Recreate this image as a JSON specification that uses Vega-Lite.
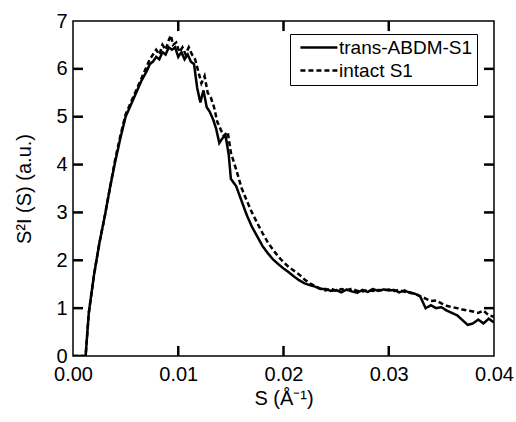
{
  "$schema": "https://vega.github.io/schema/vega-lite/v6.json",
  "autosize": "none",
  "width": 421,
  "height": 335,
  "padding": {"left": 73, "top": 21, "right": 22, "bottom": 66},
  "background": "white",
  "config": {
    "view": {"stroke": "black", "strokeWidth": 1.5},
    "font": "Liberation Sans",
    "axis": {"grid": false, "domain": false, "labelColor": "black", "titleColor": "black", "labelFont": "Liberation Sans", "titleFont": "Liberation Sans", "labelFontSize": 20, "titleFontSize": 20, "titleFontWeight": "normal"}
  },
  "datasets": {
    "xticks": [{"S": 0.01}, {"S": 0.02}, {"S": 0.03}],
    "yticks": [{"v": 1}, {"v": 2}, {"v": 3}, {"v": 4}, {"v": 5}, {"v": 6}],
    "curves": [
      {"S": 0, "v": 0, "series": "trans-ABDM-S1"},
      {"S": 0.0012, "v": 0, "series": "trans-ABDM-S1"},
      {"S": 0.0015, "v": 0.9, "series": "trans-ABDM-S1"},
      {"S": 0.002, "v": 1.7, "series": "trans-ABDM-S1"},
      {"S": 0.0025, "v": 2.35, "series": "trans-ABDM-S1"},
      {"S": 0.003, "v": 2.9, "series": "trans-ABDM-S1"},
      {"S": 0.0035, "v": 3.5, "series": "trans-ABDM-S1"},
      {"S": 0.004, "v": 4.05, "series": "trans-ABDM-S1"},
      {"S": 0.0045, "v": 4.55, "series": "trans-ABDM-S1"},
      {"S": 0.005, "v": 5.0, "series": "trans-ABDM-S1"},
      {"S": 0.0055, "v": 5.25, "series": "trans-ABDM-S1"},
      {"S": 0.006, "v": 5.5, "series": "trans-ABDM-S1"},
      {"S": 0.0065, "v": 5.75, "series": "trans-ABDM-S1"},
      {"S": 0.007, "v": 5.95, "series": "trans-ABDM-S1"},
      {"S": 0.0073, "v": 6.1, "series": "trans-ABDM-S1"},
      {"S": 0.0076, "v": 6.15, "series": "trans-ABDM-S1"},
      {"S": 0.0079, "v": 6.25, "series": "trans-ABDM-S1"},
      {"S": 0.0082, "v": 6.2, "series": "trans-ABDM-S1"},
      {"S": 0.0085, "v": 6.35, "series": "trans-ABDM-S1"},
      {"S": 0.0088, "v": 6.3, "series": "trans-ABDM-S1"},
      {"S": 0.0091, "v": 6.45, "series": "trans-ABDM-S1"},
      {"S": 0.0094, "v": 6.4, "series": "trans-ABDM-S1"},
      {"S": 0.0097, "v": 6.45, "series": "trans-ABDM-S1"},
      {"S": 0.01, "v": 6.25, "series": "trans-ABDM-S1"},
      {"S": 0.0103, "v": 6.35, "series": "trans-ABDM-S1"},
      {"S": 0.0106, "v": 6.2, "series": "trans-ABDM-S1"},
      {"S": 0.0109, "v": 6.3, "series": "trans-ABDM-S1"},
      {"S": 0.0112, "v": 6.15, "series": "trans-ABDM-S1"},
      {"S": 0.0115, "v": 6.1, "series": "trans-ABDM-S1"},
      {"S": 0.0118, "v": 5.6, "series": "trans-ABDM-S1"},
      {"S": 0.0121, "v": 5.3, "series": "trans-ABDM-S1"},
      {"S": 0.0124, "v": 5.55, "series": "trans-ABDM-S1"},
      {"S": 0.0127, "v": 5.2, "series": "trans-ABDM-S1"},
      {"S": 0.013, "v": 5.1, "series": "trans-ABDM-S1"},
      {"S": 0.0133, "v": 4.95, "series": "trans-ABDM-S1"},
      {"S": 0.0136, "v": 4.75, "series": "trans-ABDM-S1"},
      {"S": 0.0139, "v": 4.45, "series": "trans-ABDM-S1"},
      {"S": 0.0142, "v": 4.55, "series": "trans-ABDM-S1"},
      {"S": 0.0145, "v": 4.6, "series": "trans-ABDM-S1"},
      {"S": 0.0148, "v": 4.2, "series": "trans-ABDM-S1"},
      {"S": 0.015, "v": 3.7, "series": "trans-ABDM-S1"},
      {"S": 0.0155, "v": 3.55, "series": "trans-ABDM-S1"},
      {"S": 0.016, "v": 3.25, "series": "trans-ABDM-S1"},
      {"S": 0.0165, "v": 2.95, "series": "trans-ABDM-S1"},
      {"S": 0.017, "v": 2.7, "series": "trans-ABDM-S1"},
      {"S": 0.0175, "v": 2.5, "series": "trans-ABDM-S1"},
      {"S": 0.018, "v": 2.3, "series": "trans-ABDM-S1"},
      {"S": 0.0185, "v": 2.15, "series": "trans-ABDM-S1"},
      {"S": 0.019, "v": 2.02, "series": "trans-ABDM-S1"},
      {"S": 0.0195, "v": 1.92, "series": "trans-ABDM-S1"},
      {"S": 0.02, "v": 1.83, "series": "trans-ABDM-S1"},
      {"S": 0.0205, "v": 1.75, "series": "trans-ABDM-S1"},
      {"S": 0.021, "v": 1.66, "series": "trans-ABDM-S1"},
      {"S": 0.0215, "v": 1.58, "series": "trans-ABDM-S1"},
      {"S": 0.022, "v": 1.52, "series": "trans-ABDM-S1"},
      {"S": 0.0225, "v": 1.48, "series": "trans-ABDM-S1"},
      {"S": 0.023, "v": 1.45, "series": "trans-ABDM-S1"},
      {"S": 0.0235, "v": 1.4, "series": "trans-ABDM-S1"},
      {"S": 0.024, "v": 1.4, "series": "trans-ABDM-S1"},
      {"S": 0.0245, "v": 1.36, "series": "trans-ABDM-S1"},
      {"S": 0.025, "v": 1.38, "series": "trans-ABDM-S1"},
      {"S": 0.0255, "v": 1.33, "series": "trans-ABDM-S1"},
      {"S": 0.026, "v": 1.39, "series": "trans-ABDM-S1"},
      {"S": 0.0265, "v": 1.35, "series": "trans-ABDM-S1"},
      {"S": 0.027, "v": 1.32, "series": "trans-ABDM-S1"},
      {"S": 0.0275, "v": 1.38, "series": "trans-ABDM-S1"},
      {"S": 0.028, "v": 1.34, "series": "trans-ABDM-S1"},
      {"S": 0.0285, "v": 1.4, "series": "trans-ABDM-S1"},
      {"S": 0.029, "v": 1.36, "series": "trans-ABDM-S1"},
      {"S": 0.0295, "v": 1.39, "series": "trans-ABDM-S1"},
      {"S": 0.03, "v": 1.37, "series": "trans-ABDM-S1"},
      {"S": 0.0305, "v": 1.38, "series": "trans-ABDM-S1"},
      {"S": 0.031, "v": 1.33, "series": "trans-ABDM-S1"},
      {"S": 0.0315, "v": 1.37, "series": "trans-ABDM-S1"},
      {"S": 0.032, "v": 1.32, "series": "trans-ABDM-S1"},
      {"S": 0.0325, "v": 1.3, "series": "trans-ABDM-S1"},
      {"S": 0.033, "v": 1.24, "series": "trans-ABDM-S1"},
      {"S": 0.0335, "v": 1.0, "series": "trans-ABDM-S1"},
      {"S": 0.034, "v": 1.06, "series": "trans-ABDM-S1"},
      {"S": 0.0345, "v": 1.0, "series": "trans-ABDM-S1"},
      {"S": 0.035, "v": 1.02, "series": "trans-ABDM-S1"},
      {"S": 0.0355, "v": 0.95, "series": "trans-ABDM-S1"},
      {"S": 0.036, "v": 0.9, "series": "trans-ABDM-S1"},
      {"S": 0.0365, "v": 0.85, "series": "trans-ABDM-S1"},
      {"S": 0.037, "v": 0.75, "series": "trans-ABDM-S1"},
      {"S": 0.0375, "v": 0.65, "series": "trans-ABDM-S1"},
      {"S": 0.038, "v": 0.68, "series": "trans-ABDM-S1"},
      {"S": 0.0385, "v": 0.76, "series": "trans-ABDM-S1"},
      {"S": 0.039, "v": 0.68, "series": "trans-ABDM-S1"},
      {"S": 0.0395, "v": 0.78, "series": "trans-ABDM-S1"},
      {"S": 0.04, "v": 0.7, "series": "trans-ABDM-S1"},
      {"S": 0, "v": 0, "series": "intact S1"},
      {"S": 0.0012, "v": 0, "series": "intact S1"},
      {"S": 0.0015, "v": 0.9, "series": "intact S1"},
      {"S": 0.002, "v": 1.7, "series": "intact S1"},
      {"S": 0.0025, "v": 2.35, "series": "intact S1"},
      {"S": 0.003, "v": 2.9, "series": "intact S1"},
      {"S": 0.0035, "v": 3.5, "series": "intact S1"},
      {"S": 0.004, "v": 4.1, "series": "intact S1"},
      {"S": 0.0045, "v": 4.6, "series": "intact S1"},
      {"S": 0.005, "v": 5.05, "series": "intact S1"},
      {"S": 0.0055, "v": 5.3, "series": "intact S1"},
      {"S": 0.006, "v": 5.55, "series": "intact S1"},
      {"S": 0.0065, "v": 5.8, "series": "intact S1"},
      {"S": 0.007, "v": 6.05, "series": "intact S1"},
      {"S": 0.0073, "v": 6.2, "series": "intact S1"},
      {"S": 0.0076, "v": 6.3, "series": "intact S1"},
      {"S": 0.0079, "v": 6.4, "series": "intact S1"},
      {"S": 0.0082, "v": 6.3, "series": "intact S1"},
      {"S": 0.0085, "v": 6.5, "series": "intact S1"},
      {"S": 0.0088, "v": 6.4, "series": "intact S1"},
      {"S": 0.0091, "v": 6.6, "series": "intact S1"},
      {"S": 0.0093, "v": 6.7, "series": "intact S1"},
      {"S": 0.0095, "v": 6.5, "series": "intact S1"},
      {"S": 0.0098, "v": 6.55, "series": "intact S1"},
      {"S": 0.0101, "v": 6.35, "series": "intact S1"},
      {"S": 0.0104, "v": 6.45, "series": "intact S1"},
      {"S": 0.0107, "v": 6.3, "series": "intact S1"},
      {"S": 0.011, "v": 6.45, "series": "intact S1"},
      {"S": 0.0113, "v": 6.3, "series": "intact S1"},
      {"S": 0.0116, "v": 6.2, "series": "intact S1"},
      {"S": 0.0119, "v": 5.95, "series": "intact S1"},
      {"S": 0.0122, "v": 5.7, "series": "intact S1"},
      {"S": 0.0125, "v": 5.85, "series": "intact S1"},
      {"S": 0.0128, "v": 5.5, "series": "intact S1"},
      {"S": 0.0131, "v": 5.4, "series": "intact S1"},
      {"S": 0.0134, "v": 5.2, "series": "intact S1"},
      {"S": 0.0137, "v": 4.9, "series": "intact S1"},
      {"S": 0.014, "v": 4.75, "series": "intact S1"},
      {"S": 0.0143, "v": 4.6, "series": "intact S1"},
      {"S": 0.0147, "v": 4.68, "series": "intact S1"},
      {"S": 0.015, "v": 4.25, "series": "intact S1"},
      {"S": 0.0155, "v": 3.9, "series": "intact S1"},
      {"S": 0.016, "v": 3.52, "series": "intact S1"},
      {"S": 0.0165, "v": 3.25, "series": "intact S1"},
      {"S": 0.017, "v": 3.0, "series": "intact S1"},
      {"S": 0.0175, "v": 2.78, "series": "intact S1"},
      {"S": 0.018, "v": 2.57, "series": "intact S1"},
      {"S": 0.0185, "v": 2.38, "series": "intact S1"},
      {"S": 0.019, "v": 2.22, "series": "intact S1"},
      {"S": 0.0195, "v": 2.08, "series": "intact S1"},
      {"S": 0.02, "v": 1.96, "series": "intact S1"},
      {"S": 0.0205, "v": 1.86, "series": "intact S1"},
      {"S": 0.021, "v": 1.78, "series": "intact S1"},
      {"S": 0.0215, "v": 1.7, "series": "intact S1"},
      {"S": 0.022, "v": 1.6, "series": "intact S1"},
      {"S": 0.0225, "v": 1.52, "series": "intact S1"},
      {"S": 0.023, "v": 1.46, "series": "intact S1"},
      {"S": 0.0235, "v": 1.41, "series": "intact S1"},
      {"S": 0.024, "v": 1.37, "series": "intact S1"},
      {"S": 0.0245, "v": 1.41, "series": "intact S1"},
      {"S": 0.025, "v": 1.36, "series": "intact S1"},
      {"S": 0.0255, "v": 1.4, "series": "intact S1"},
      {"S": 0.026, "v": 1.37, "series": "intact S1"},
      {"S": 0.0265, "v": 1.41, "series": "intact S1"},
      {"S": 0.027, "v": 1.36, "series": "intact S1"},
      {"S": 0.0275, "v": 1.35, "series": "intact S1"},
      {"S": 0.028, "v": 1.38, "series": "intact S1"},
      {"S": 0.0285, "v": 1.36, "series": "intact S1"},
      {"S": 0.029, "v": 1.38, "series": "intact S1"},
      {"S": 0.0295, "v": 1.37, "series": "intact S1"},
      {"S": 0.03, "v": 1.39, "series": "intact S1"},
      {"S": 0.0305, "v": 1.36, "series": "intact S1"},
      {"S": 0.031, "v": 1.38, "series": "intact S1"},
      {"S": 0.0315, "v": 1.34, "series": "intact S1"},
      {"S": 0.032, "v": 1.33, "series": "intact S1"},
      {"S": 0.0325, "v": 1.3, "series": "intact S1"},
      {"S": 0.033, "v": 1.25, "series": "intact S1"},
      {"S": 0.0335, "v": 1.2, "series": "intact S1"},
      {"S": 0.034, "v": 1.15, "series": "intact S1"},
      {"S": 0.0345, "v": 1.16, "series": "intact S1"},
      {"S": 0.035, "v": 1.1, "series": "intact S1"},
      {"S": 0.0355, "v": 1.05, "series": "intact S1"},
      {"S": 0.036, "v": 1.02, "series": "intact S1"},
      {"S": 0.0365, "v": 1.0, "series": "intact S1"},
      {"S": 0.037, "v": 0.97, "series": "intact S1"},
      {"S": 0.0375, "v": 0.95, "series": "intact S1"},
      {"S": 0.038, "v": 0.93, "series": "intact S1"},
      {"S": 0.0385, "v": 0.9, "series": "intact S1"},
      {"S": 0.039, "v": 0.95, "series": "intact S1"},
      {"S": 0.0395, "v": 0.85, "series": "intact S1"},
      {"S": 0.04, "v": 0.82, "series": "intact S1"}
    ]
  },
  "resolve": {"axis": {"x": "independent", "y": "independent"}},
  "layer": [
    {
      "data": {"name": "curves"},
      "mark": {"type": "line", "color": "black", "strokeWidth": 2.5, "clip": true},
      "encoding": {
        "x": {"field": "S", "type": "quantitative", "scale": {"domain": [0, 0.04], "nice": false},
          "axis": {"orient": "bottom", "ticks": false, "values": [0, 0.01, 0.02, 0.03, 0.04], "format": ".2f", "title": "S (Å⁻¹)", "labelPadding": 8, "titlePadding": 4, "labelFlush": false}},
        "y": {"field": "v", "type": "quantitative", "scale": {"domain": [0, 7], "nice": false},
          "axis": {"orient": "left", "ticks": false, "values": [0, 1, 2, 3, 4, 5, 6, 7], "title": "S²I (S)  (a.u.)", "labelPadding": 6, "titlePadding": 21, "labelFlush": false}},
        "strokeDash": {"field": "series", "type": "nominal",
          "scale": {"domain": ["trans-ABDM-S1", "intact S1"], "range": [[1, 0], [5, 3]]},
          "legend": {"title": null, "orient": "none", "legendX": 217, "legendY": 13, "strokeColor": "black", "padding": 4, "symbolType": "M-1,0H11", "symbolSize": 38, "symbolStrokeWidth": 2.5, "symbolStrokeColor": "black", "labelFontSize": 19, "labelFont": "Liberation Sans", "labelColor": "black", "rowPadding": 3, "labelOffset": 26}}
      }
    },
    {
      "data": {"name": "xticks"},
      "mark": {"type": "rule", "color": "black", "strokeWidth": 2.5},
      "encoding": {
        "x": {"field": "S", "type": "quantitative", "axis": null},
        "y": {"datum": 0, "type": "quantitative", "axis": null},
        "y2": {"datum": 0.21}
      }
    },
    {
      "data": {"name": "xticks"},
      "mark": {"type": "rule", "color": "black", "strokeWidth": 2.5},
      "encoding": {
        "x": {"field": "S", "type": "quantitative", "axis": null},
        "y": {"datum": 7, "type": "quantitative", "axis": null},
        "y2": {"datum": 6.79}
      }
    },
    {
      "data": {"name": "yticks"},
      "mark": {"type": "rule", "color": "black", "strokeWidth": 2.5},
      "encoding": {
        "y": {"field": "v", "type": "quantitative", "axis": null},
        "x": {"datum": 0, "type": "quantitative", "axis": null},
        "x2": {"datum": 0.00095}
      }
    },
    {
      "data": {"name": "yticks"},
      "mark": {"type": "rule", "color": "black", "strokeWidth": 2.5},
      "encoding": {
        "y": {"field": "v", "type": "quantitative", "axis": null},
        "x": {"datum": 0.04, "type": "quantitative", "axis": null},
        "x2": {"datum": 0.03905}
      }
    }
  ]
}
